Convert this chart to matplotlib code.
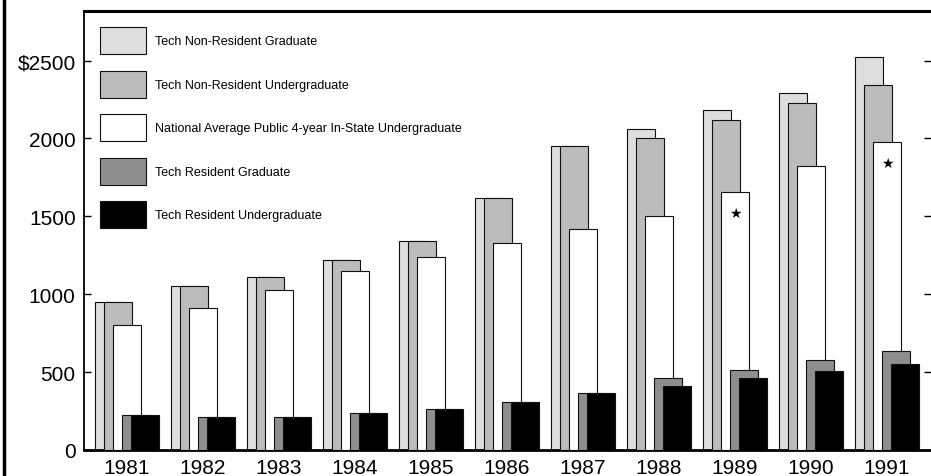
import numpy as np
import matplotlib.pyplot as plt
from matplotlib.patches import Patch
from matplotlib.lines import Line2D

plt.rcParams['font.family'] = ['Liberation Sans', 'DejaVu Sans']

anos = [1981, 1982, 1983, 1984, 1985, 1986, 1987, 1988, 1989, 1990, 1991]

nao_res_grad = [950, 1050, 1110, 1220, 1340, 1620, 1950, 2060, 2180, 2290, 2520]
nao_res_grad_u = [950, 1050, 1110, 1220, 1340, 1620, 1950, 2000, 2120, 2230, 2340]
media_nacional = [800, 910, 1030, 1150, 1240, 1330, 1420, 1500, 1655, 1820, 1975]
res_grad = [225, 215, 215, 235, 260, 305, 365, 465, 515, 575, 635]
res_grad_u = [225, 215, 215, 235, 260, 305, 365, 410, 460, 505, 555]

series = [nao_res_grad, nao_res_grad_u, media_nacional, res_grad, res_grad_u]
rotulos = ['Tech Non-Resident Graduate',
           'Tech Non-Resident Undergraduate',
           'National Average Public 4-year In-State Undergraduate',
           'Tech Resident Graduate',
           'Tech Resident Undergraduate']
cores = ['#dedede', '#bcbcbc', '#ffffff', '#8e8e8e', '#000000']

# anos marcados com estrela na barra da media nacional
com_estrela = [1989, 1991]

fig = plt.figure(figsize=(9.31, 4.77), dpi=100)
ax = fig.add_axes([84 / 931, 26 / 477, 847 / 931, 439 / 477])

x = np.array(anos, dtype=float)
largura = 0.37
passo = 0.118

for i, (valores, cor) in enumerate(zip(series, cores)):
    ax.bar(x + (i - 2) * passo, valores, width=largura, color=cor,
           edgecolor='#111111', linewidth=0.8, zorder=2 + i)

for ano in com_estrela:
    idx = anos.index(ano)
    ax.annotate('★', xy=(ano, media_nacional[idx]), xytext=(0, -15),
                textcoords='offset points', ha='center', va='center',
                fontsize=10, family=['DejaVu Sans'], zorder=10)

ax.set_xlim(1980.434, 1991.58)
ax.set_ylim(0, 2818)
ax.set_xticks(anos)
ax.set_xticklabels([str(a) for a in anos])
ax.set_yticks([0, 500, 1000, 1500, 2000, 2500])
ax.set_yticklabels(['0', '500', '1000', '1500', '2000', '$2500'])
ax.tick_params(axis='y', direction='in', length=5, width=1, pad=6,
               labelsize=15, right=True)
ax.tick_params(axis='x', length=0, pad=6, labelsize=15)

ax.spines['right'].set_visible(False)
ax.spines['top'].set_linewidth(2.2)
ax.spines['bottom'].set_linewidth(2)
ax.spines['left'].set_linewidth(1.3)

handles = [Patch(facecolor=c, edgecolor='#111111', linewidth=0.8) for c in cores]
ax.legend(handles, rotulos, loc='upper left', bbox_to_anchor=(0.019, 0.963),
          frameon=False, fontsize=9, handlelength=3.7, handleheight=2.94,
          labelspacing=1.32, handletextpad=0.7, borderpad=0, borderaxespad=0)

# borda grossa na esquerda da pagina
fig.add_artist(Line2D([0.004, 0.004], [0, 1], transform=fig.transFigure,
                      color='black', linewidth=2.5))

fig.savefig('out.png', dpi=100)
